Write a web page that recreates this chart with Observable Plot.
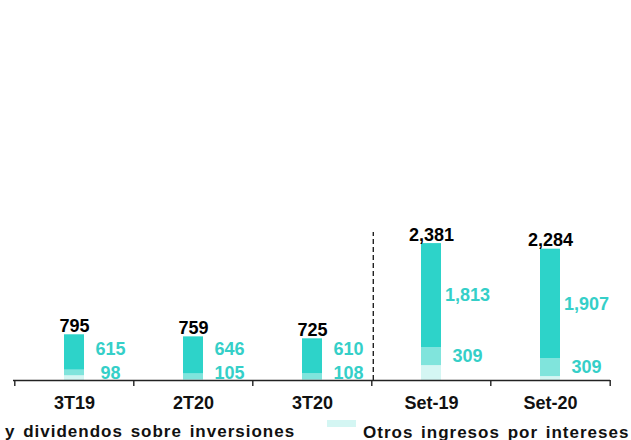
<!DOCTYPE html>
<html>
<head>
<meta charset="utf-8">
<script src="https://cdn.jsdelivr.net/npm/d3@7"></script>
<script src="https://cdn.jsdelivr.net/npm/@observablehq/plot@0.6"></script>
<style>
  html, body { margin: 0; padding: 0; background: #fff; }
  #chart { width: 631px; font-family: "Liberation Sans", Arial, sans-serif; }
  #chart svg g[aria-label="period-labels"] text { letter-spacing: 1px; }
  .legend { position: relative; width: 631px; height: 22px; overflow: hidden;
            font: bold 17px "Liberation Sans", Arial, sans-serif; color: #111;
            letter-spacing: 1px; word-spacing: 2px; }
  .legend span { position: absolute; white-space: nowrap; line-height: 1; }
  .legend .swatch { width: 29px; height: 7px; }
</style>
</head>
<body>
<div id="chart"></div>
<script>
const periods = ["3T19", "2T20", "3T20", "Set-19", "Set-20"];
const totals = [795, 759, 725, 2381, 2284];
const interestIncome = [615, 646, 610, 1813, 1907];   // top segment
const investmentIncome = [98, 105, 108, 309, 309];    // middle segment
const otherIncome = [82, 8, 7, 259, 68];              // bottom segment

const colors = { other: "#d4f6f3", invest: "#80e4dc", interest: "#2dd3c9" };
const labelTeal = "#35cfc8";
const fmt = d3.format(",");

// stack the three series bottom to top for every period
const rows = [];
periods.forEach((p, i) => {
  let base = 0;
  [["other", otherIncome], ["invest", investmentIncome], ["interest", interestIncome]].forEach(([key, arr]) => {
    rows.push({ period: p, key, y1: base, y2: base + arr[i], value: arr[i] });
    base += arr[i];
  });
});
const idx = periods.map((_, i) => i);
const step = 597 / periods.length;
// segment labels sit at the segment middle, kept clear of the baseline
// and of each other on the short quarterly bars
const minMid = 118, minTop = 538;
const labelY = d => d.key === "invest"
  ? Math.max((d.y1 + d.y2) / 2, minMid)
  : Math.max((d.y1 + d.y2) / 2, minTop);

const chart = Plot.plot({
  width: 631,
  height: 418,
  marginLeft: 13,
  marginRight: 21,
  marginTop: 0,
  marginBottom: 0,
  style: { fontFamily: "'Liberation Sans', Arial, sans-serif", background: "#fff" },
  x: { domain: periods, paddingInner: 0.8325, paddingOuter: 0.416, axis: null },
  y: { domain: [0, 2600], range: [380, 230.5], axis: null },
  marks: [
    ...["other", "invest", "interest"].map(key =>
      Plot.barY(rows.filter(d => d.key === key), { x: "period", y1: "y1", y2: "y2", fill: colors[key] })
    ),
    Plot.ruleY([0], { stroke: "#222", strokeWidth: 1.6 }),
    Plot.ruleX(periods, { x: d => d, y1: 0, y2: -104, dx: -step / 2, stroke: "#222", strokeWidth: 1.4 }),
    Plot.ruleX([periods[periods.length - 1]], { x: d => d, y1: 0, y2: -104, dx: step / 2, stroke: "#222", strokeWidth: 1.4 }),
    Plot.ruleX(["Set-19"], { x: d => d, y1: 0, y2: 2575, dx: -step / 2 + 1.5, stroke: "#222", strokeWidth: 1.4, strokeDasharray: "5,3" }),
    Plot.text(rows.filter(d => d.key !== "other"), {
      x: "period", y: labelY, text: d => fmt(d.value),
      dx: 36, fill: labelTeal, fontSize: 18, fontWeight: "bold"
    }),
    Plot.text(idx, {
      x: i => periods[i], y: i => totals[i], text: i => fmt(totals[i]),
      dy: -3, lineAnchor: "bottom", fill: "#000", fontSize: 18, fontWeight: "bold"
    }),
    Plot.text(periods, {
      x: d => d, y: () => 0, text: d => d, dy: 23,
      fill: "#111", fontSize: 18, fontWeight: "bold", ariaLabel: "period-labels"
    })
  ]
});
document.getElementById("chart").appendChild(chart);

const legend = document.createElement("div");
legend.className = "legend";
legend.innerHTML =
  `<span style="left:5px; top:5px;">y dividendos sobre inversiones</span>` +
  `<span class="swatch" style="left:327px; top:2px; background:${colors.other};"></span>` +
  `<span style="left:363px; top:6px;">Otros ingresos por intereses</span>`;
document.getElementById("chart").appendChild(legend);
</script>
</body>
</html>
